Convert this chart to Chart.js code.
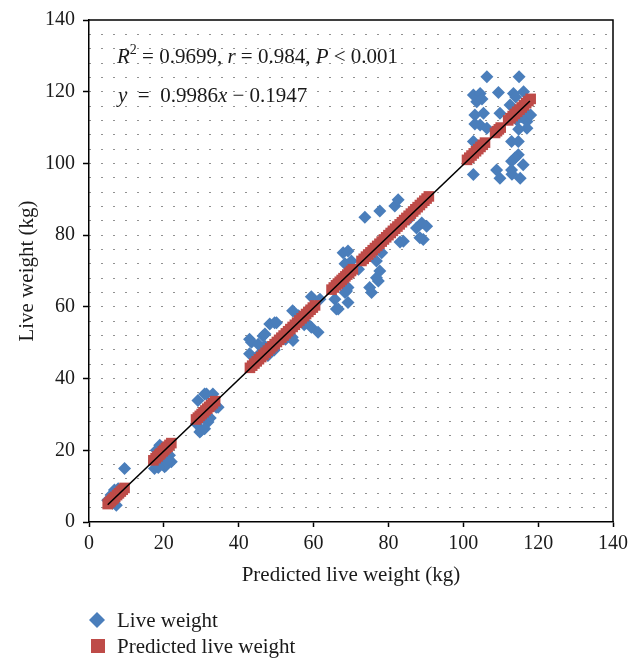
<!DOCTYPE html>
<html><head><meta charset="utf-8">
<script src="https://cdn.jsdelivr.net/npm/chart.js@4/dist/chart.umd.min.js"></script>
<style>html,body{margin:0;padding:0;background:#fff}#wrap{width:640px;height:658px;position:relative}</style>
</head><body><div id="wrap"><canvas id="c" width="640" height="658"></canvas></div>
<script>
// ---- data ----
const xTickValues = [0, 20, 40, 60, 80, 100, 120, 140];
const yTickValues = [0, 20, 40, 60, 80, 100, 120, 140];
const seriesNames = ['Live weight', 'Predicted live weight'];
const axisTitles = ['Predicted live weight (kg)', 'Live weight (kg)'];
const statsText = ['R', '2', ' = 0.9699, ', 'r', ' = 0.984, ', 'P', ' < 0.001'];
const eqText = ['y', '  =  ', '0.9986', 'x', ' \u2212 0.1947'];

// Live weight (observed) vs predicted
const liveX = [5.0,5.9,6.8,7.3,8.6,7.8,6.3,9.5,
  18.9,18.0,21.5,22.0,20.2,17.5,19.7,20.6,21.2,18.5,
  30.9,29.1,33.1,34.5,31.8,30.0,28.7,30.9,29.6,31.4,34.0,32.4,
  42.9,43.4,46.5,45.2,47.0,42.9,45.6,47.8,48.3,49.6,54.4,58.1,59.4,61.2,54.5,54.3,59.4,61.7,47.0,50.1,44.0,49.5,52.5,56.0,57.5,
  65.7,66.1,69.2,68.4,69.2,75.0,75.5,77.3,76.8,77.7,76.8,78.2,70.1,68.4,67.9,69.2,73.7,77.7,81.7,82.6,88.9,87.5,90.2,84.0,83.1,89.3,88.4,66.6,68.8,72.0,80.0,85.5,86.5,
  106.3,114.9,102.7,104.5,103.6,109.4,113.4,116.1,112.5,103.1,105.4,109.8,104.5,103.1,106.3,114.3,117.0,117.0,114.8,102.7,112.9,114.7,114.7,113.8,112.9,116.0,108.9,102.7,109.8,112.9,115.2,113.0,105.0,114.0,116.5,115.5,104.0,118.0];
const liveY = [6.1,7.5,8.9,4.7,8.0,9.3,5.2,14.9,
  21.4,20.0,18.6,16.8,15.4,14.9,16.1,15.8,17.5,15.2,
  35.7,33.9,35.7,32.0,27.9,25.6,27.4,26.0,25.1,35.7,32.0,29.0,
  51.0,50.1,51.9,49.6,49.0,46.9,46.9,46.4,55.2,55.6,58.9,55.6,54.3,52.9,50.6,51.5,62.8,62.1,52.4,55.6,44.5,48.0,51.0,57.5,55.0,
  62.1,59.4,61.2,64.0,65.4,65.4,64.0,67.2,68.1,70.0,72.8,75.1,72.8,72.0,75.1,75.6,85.0,86.7,88.1,89.9,83.4,82.0,82.5,78.3,78.1,78.8,79.3,59.4,64.4,70.5,80.5,84.5,86.0,
  124.2,124.2,119.1,119.5,117.2,119.8,119.5,120.0,116.3,113.5,114.0,114.0,110.7,111.0,109.8,112.1,111.7,109.8,109.5,106.1,106.1,106.1,102.4,101.5,100.6,99.6,98.2,96.9,95.9,98.2,95.9,97.0,118.0,118.5,114.5,113.0,104.0,113.5];

// Predicted live weight plotted against itself
const predX = [5.0,5.4,5.8,6.2,6.6,7.0,7.5,8.0,8.5,9.0,9.5,
  17.2,17.8,18.3,18.8,19.2,19.7,20.1,20.6,21.0,21.5,22.0,
  28.6,29.1,29.6,30.1,30.6,31.1,31.6,32.1,32.6,33.1,33.7,
  43.0,43.6,44.2,44.8,45.4,46.0,46.6,47.2,47.8,48.4,49.0,49.6,50.2,50.8,51.4,52.0,52.6,53.2,53.8,54.4,55.0,55.6,56.2,56.8,57.4,58.0,58.6,59.2,59.8,60.4,
  64.8,65.4,66.0,66.5,67.0,67.5,68.0,68.5,69.0,69.5,70.0,70.5,
  72.8,73.4,74.0,74.6,75.2,75.8,76.4,77.0,77.6,78.2,78.8,79.4,80.0,80.6,81.2,81.8,82.4,83.0,83.6,84.2,84.8,85.4,86.0,86.6,87.2,87.8,88.4,89.0,89.6,90.2,90.8,
  101.0,101.6,102.2,102.8,103.4,104.0,104.6,105.2,105.8,
  108.5,109.0,109.5,110.0,
  112.0,112.6,113.2,113.8,114.4,115.0,115.6,116.2,116.8,117.4,118.0];
const predY = predX.slice();

// fitted line end points
const fitX = [5.0, 117.8];
const fitY = [4.8, 117.4];

// ---- build chart ----
const FONT = '"Liberation Serif", "Times New Roman", serif';
const toPts = (xs, ys) => xs.map((x, i) => ({x: x, y: ys[i]}));

const frame = {
  id: 'frame',
  afterDraw(chart) {
    const {ctx, chartArea: a} = chart;
    ctx.save();
    ctx.strokeStyle = '#000';
    ctx.lineWidth = 1.5;
    ctx.beginPath();
    ctx.moveTo(a.left, a.top); ctx.lineTo(a.right, a.top); ctx.lineTo(a.right, a.bottom);
    ctx.stroke();

    // statistics text
    ctx.fillStyle = '#1a1a1a';
    ctx.textBaseline = 'alphabetic';
    const reg = '21px ' + FONT, ital = 'italic 21px ' + FONT, sup = '14px ' + FONT;
    let x = 117, y = 63;
    const put = (t, f, dy) => { ctx.font = f; ctx.fillText(t, x, y + (dy || 0)); x += ctx.measureText(t).width; };
    put(statsText[0], ital); put(statsText[1], sup, -9); put(statsText[2], reg);
    put(statsText[3], ital); put(statsText[4], reg); put(statsText[5], ital); put(statsText[6], reg);
    x = 118; y = 102;
    put(eqText[0], ital); put(eqText[1], reg); put(eqText[2], reg); put(eqText[3], ital); put(eqText[4], reg);

    // legend
    const ds = chart.data.datasets;
    ctx.fillStyle = ds[0].backgroundColor;
    ctx.beginPath();
    ctx.moveTo(97, 612); ctx.lineTo(105, 620); ctx.lineTo(97, 628); ctx.lineTo(89, 620); ctx.closePath();
    ctx.fill();
    ctx.fillStyle = ds[1].backgroundColor;
    ctx.fillRect(91, 639, 14, 14);
    ctx.fillStyle = '#1a1a1a';
    ctx.font = reg;
    ctx.fillText(seriesNames[0], 117, 627);
    ctx.fillText(seriesNames[1], 117, 653);
    ctx.restore();
  }
};

new Chart(document.getElementById('c'), {
  type: 'scatter',
  data: {
    datasets: [
      {label: seriesNames[0], data: toPts(liveX, liveY), pointStyle: 'rectRot', pointRadius: 6.5,
       backgroundColor: '#4A7EBB', borderWidth: 0, order: 3},
      {label: seriesNames[1], data: toPts(predX, predY), pointStyle: 'rect', pointRadius: 7.5,
       backgroundColor: '#BE4B48', borderWidth: 0, order: 2},
      {type: 'line', label: 'fit', data: toPts(fitX, fitY), borderColor: '#000', borderWidth: 1.6,
       pointRadius: 0, fill: false, order: 1}
    ]
  },
  options: {
    responsive: false,
    animation: false,
    devicePixelRatio: 1,
    layout: {padding: {left: 0, top: 18, right: 27, bottom: 54}},
    plugins: {legend: {display: false}, tooltip: {enabled: false}},
    scales: {
      x: {
        type: 'linear', min: 0, max: 140,
        afterBuildTicks: s => { s.ticks = xTickValues.map(v => ({value: v})); },
        afterFit: s => { s.height = 82; },
        ticks: {font: {family: FONT, size: 20}, color: '#1a1a1a', padding: 5, maxRotation: 0},
        grid: {drawOnChartArea: false, drawTicks: true, tickLength: 5, tickColor: '#000', tickWidth: 1.5},
        border: {color: '#000', width: 1.5},
        title: {display: true, text: axisTitles[0], font: {family: FONT, size: 21}, color: '#1a1a1a',
                padding: {top: 0, bottom: 16}}
      },
      y: {
        type: 'linear', min: 0, max: 140,
        ticks: {stepSize: 4, autoSkip: false, font: {family: FONT, size: 20}, color: '#1a1a1a', padding: 8,
                callback: v => yTickValues.includes(v) ? String(v) : ''},
        afterFit: s => { s.width = 89; },
        grid: {drawOnChartArea: true, drawTicks: true, tickLength: 6, lineWidth: 1,
               color: c => (c.tick && c.tick.value > 0 && c.tick.value < 140) ? '#222' : 'rgba(0,0,0,0)',
               tickColor: c => (c.tick && c.tick.value % 20 === 0) ? '#000' : 'rgba(0,0,0,0)', tickWidth: 1.5},
        border: {color: '#000', width: 1.5, dash: [1, 11]},
        title: {display: true, text: axisTitles[1], font: {family: FONT, size: 21}, color: '#1a1a1a',
                padding: {top: 15, bottom: 0}}
      }
    }
  },
  plugins: [frame]
});
</script></body></html>
